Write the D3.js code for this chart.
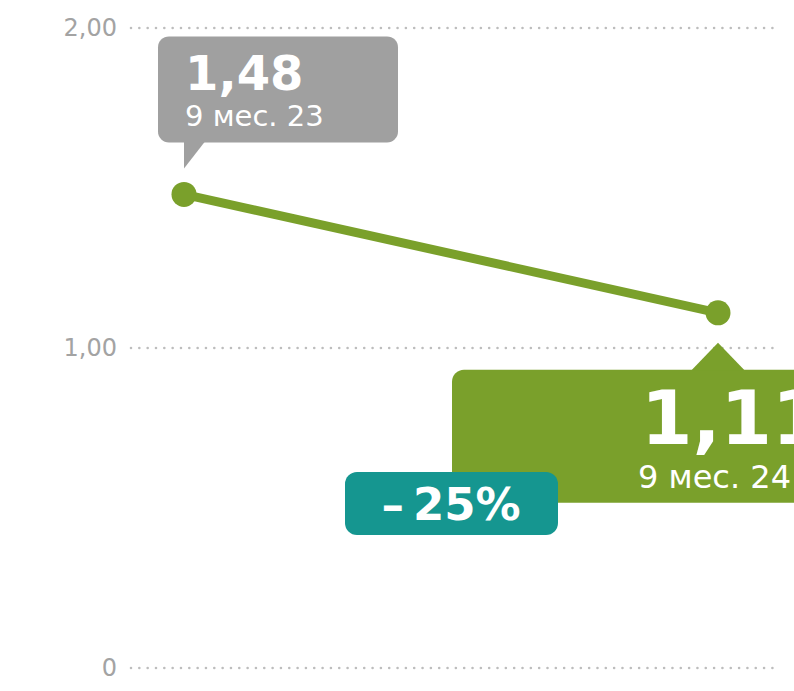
<!DOCTYPE html>
<html><head><meta charset="utf-8">
<script src="https://cdn.jsdelivr.net/npm/d3@7"></script>
<style>html,body{margin:0;padding:0;background:#fff;overflow:hidden}</style>
</head><body>
<svg id="c" width="794" height="691"></svg>
<script>
const categories = ["9 мес. 23", "9 мес. 24"];
const values = [1.48, 1.11];
const valueLabels = ["1,48", "1,11"];
const tickValues = [0, 1, 2];
const tickLabels = ["0", "1,00", "2,00"];
const changeLabel = "–\u200925%";

const svg = d3.select("#c");
const y = d3.scaleLinear().domain([0, 2]).range([668, 28]);
const x = d3.scalePoint().domain(categories).range([184, 718]);
const green = "#7aa02b", gray = "#a0a0a0", teal = "#159690";
const font = "'DejaVu Sans', sans-serif";

// grid
const grid = svg.append("g");
tickValues.forEach((t, i) => {
  grid.append("line").attr("x1", 131).attr("x2", 774)
    .attr("y1", y(t)).attr("y2", y(t))
    .attr("stroke", "#bdbdbd").attr("stroke-width", 2.6)
    .attr("stroke-linecap", "round").attr("stroke-dasharray", "0 8.33");
  grid.append("text").attr("x", 117).attr("y", y(t)).attr("dy", "0.35em")
    .attr("text-anchor", "end").attr("font-family", font).attr("font-size", 24)
    .attr("fill", "#a3a3a3").text(tickLabels[i]);
});

// line
const pts = categories.map((c, i) => [x(c), y(values[i])]);
svg.append("path").attr("d", d3.line()(pts)).attr("fill", "none")
  .attr("stroke", green).attr("stroke-width", 9);
pts.forEach(p => svg.append("circle").attr("cx", p[0]).attr("cy", p[1]).attr("r", 12.5).attr("fill", green));

// gray callout for first point
const [p1x, p1y] = pts[0];
const g1 = svg.append("g");
g1.append("rect").attr("x", p1x - 26).attr("y", p1y - 158).attr("width", 240).attr("height", 106)
  .attr("rx", 11).attr("fill", gray);
g1.append("path").attr("d", `M${p1x},${p1y - 53} L${p1x + 21},${p1y - 53} L${p1x},${p1y - 26} Z`).attr("fill", gray);
g1.append("text").attr("x", p1x + 1).attr("y", p1y - 104).attr("font-family", font)
  .attr("font-weight", "bold").attr("font-size", 48).attr("fill", "#fff").text(valueLabels[0]);
g1.append("text").attr("x", p1x + 1).attr("y", p1y - 68).attr("font-family", font)
  .attr("font-size", 29).attr("fill", "#fff").text(categories[0]);

// green callout for second point
const [p2x, p2y] = pts[1];
const g2 = svg.append("g");
g2.append("rect").attr("x", p2x - 266).attr("y", p2y + 57).attr("width", 400).attr("height", 133)
  .attr("rx", 12).attr("fill", green);
g2.append("path").attr("d", `M${p2x},${p2y + 30} L${p2x + 27},${p2y + 58} L${p2x - 27},${p2y + 58} Z`).attr("fill", green);
g2.append("text").attr("x", p2x - 77).attr("y", p2y + 131).attr("font-family", font)
  .attr("font-weight", "bold").attr("font-size", 74).attr("fill", "#fff").text(valueLabels[1]);
g2.append("text").attr("x", p2x - 80).attr("y", p2y + 175).attr("font-family", font)
  .attr("font-size", 32).attr("fill", "#fff").text(categories[1]);

// change badge
const bx = (p1x + p2x) / 2;
const g3 = svg.append("g");
g3.append("rect").attr("x", bx - 106).attr("y", 472).attr("width", 213).attr("height", 63)
  .attr("rx", 12).attr("fill", teal);
g3.append("text").attr("x", bx).attr("y", 520).attr("text-anchor", "middle").attr("font-family", font)
  .attr("font-weight", "bold").attr("font-size", 45).attr("fill", "#fff").text(changeLabel);
</script>
</body></html>
